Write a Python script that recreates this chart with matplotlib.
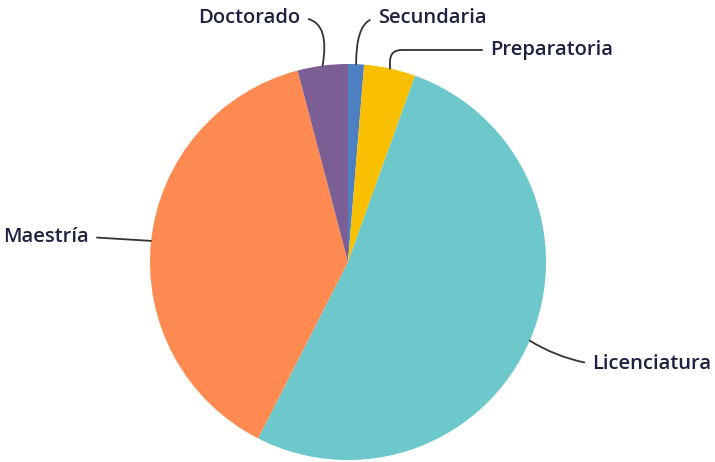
import numpy as np
import matplotlib.pyplot as plt

labels = ["Secundaria", "Preparatoria", "Licenciatura", "Maestría", "Doctorado"]
values = [1.3, 4.2, 52.0, 38.4, 4.1]
colors = ["#4d7fc1", "#f8c000", "#6cc8cb", "#fd8b51", "#7b5f94"]

fig = plt.figure(figsize=(7.15, 4.62), dpi=100)
ax = fig.add_axes([150 / 715, 2 / 462, 396 / 715, 396 / 462])

wedges, _ = ax.pie(values, colors=colors, startangle=90, counterclock=False,
                   wedgeprops=dict(linewidth=0))
ax.set_xlim(-1, 1)
ax.set_ylim(-1, 1)
ax.set_aspect("equal")
ax.axis("off")

# label positions (text anchor), alignment and leader style
text_pos = {
    "Secundaria": ((0.15, 1.232), "left", "angle3,angleA=0,angleB=90"),
    "Preparatoria": ((0.72, 1.071), "left", "angle,angleA=0,angleB=90,rad=12"),
    "Licenciatura": ((1.235, -0.515), "left", "arc3,rad=-0.1"),
    "Maestría": ((-1.31, 0.126), "right", "arc3,rad=0"),
    "Doctorado": ((-0.24, 1.232), "right", "angle3,angleA=0,angleB=80"),
}

for w, lab in zip(wedges, labels):
    ang = np.deg2rad((w.theta1 + w.theta2) / 2)
    xy = (np.cos(ang), np.sin(ang))
    pos, ha, cs = text_pos[lab]
    ax.annotate(lab, xy=xy, xytext=pos, ha=ha, va="center",
                fontsize=14.5, fontweight="semibold", family="Open Sans", color="#1e2140",
                annotation_clip=False,
                arrowprops=dict(arrowstyle="-", color="#333333", lw=1.3,
                                connectionstyle=cs, shrinkA=4, shrinkB=0,
                                relpos=(0, 0.5) if ha == "left" else (1, 0.5)))

fig.savefig("out.png", dpi=100)
